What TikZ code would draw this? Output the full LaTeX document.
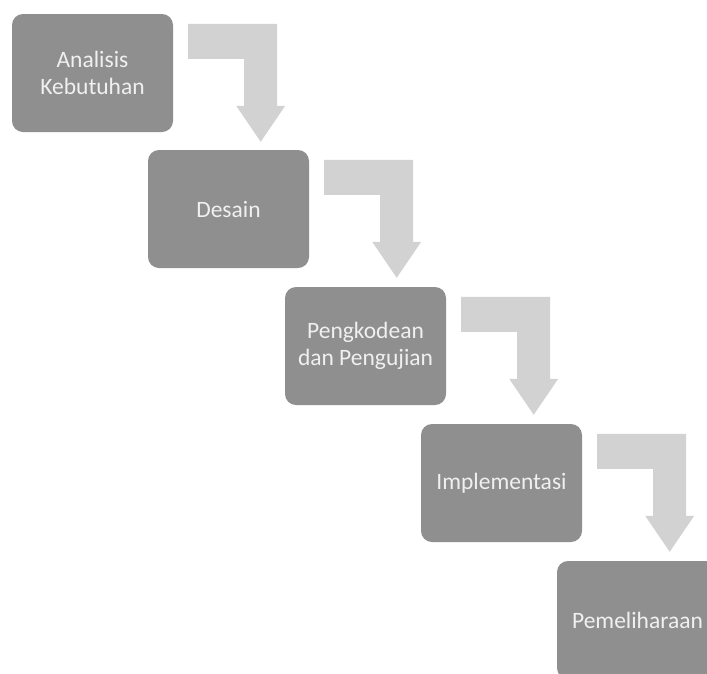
\documentclass[tikz,border=0pt]{standalone}
\usepackage{fontspec}
\setmainfont{Carlito}
\usetikzlibrary{calc}
\definecolor{boxgray}{HTML}{8F8F8F}
\definecolor{arrowgray}{HTML}{D2D2D2}
\definecolor{txtgray}{HTML}{F0F0F0}
\begin{document}
\begin{tikzpicture}[x=1pt,y=-1pt,
  stagebox/.style={fill=boxgray, draw=none, rounded corners=11pt,
    minimum width=161pt, minimum height=118pt, inner sep=0pt,
    align=center, text=txtgray,
    font=\fontsize{23.5}{27.5}\selectfont},
  bentarrow/.style={fill=arrowgray, draw=none}]
\useasboundingbox (0,0) rectangle (707,673);
\fill[white] (0,0) rectangle (707,673);

\node[stagebox] (b1) at (92.5,73) {Analisis\\Kebutuhan};
\node[stagebox] (b2) at (228.5,209) {Desain};
\node[stagebox] (b3) at (365.5,346) {Pengkodean\\dan Pengujian};
\node[stagebox] (b4) at (501.5,483) {Implementasi};
\node[stagebox] (b5) at (637.5,620) {Pemeliharaan};

\foreach \n in {b1,b2,b3,b4}{
  \begin{scope}[shift={(\n.north east)}]
    \fill[bentarrow] (15,10) -- (104,10) -- (104,92) -- (112,92)
      -- (87.5,128) -- (63,92) -- (71,92) -- (71,45) -- (15,45) -- cycle;
  \end{scope}
}
\end{tikzpicture}
\end{document}
